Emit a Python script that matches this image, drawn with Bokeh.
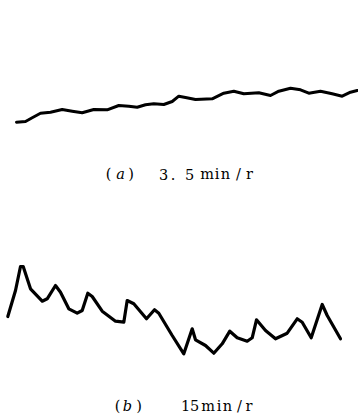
from bokeh.plotting import figure
from bokeh.models import Range1d
from bokeh.core.properties import value
from bokeh.embed import file_html
from bokeh.resources import INLINE

# Trace (a): 3.5 min/r  (horizontal position, vertical position in picture units, y grows downward)
a_x = [16, 25, 31.7, 40, 50, 61.7, 71.7, 81.7, 93.3, 106.7, 118.3, 128.3, 136.7, 145,
       153.3, 163.3, 171.7, 178.3, 185, 195, 211.7, 223.3, 233.3, 243.3, 258.3, 270,
       278.3, 290, 300, 308.3, 320, 331.7, 341.7, 350, 356.7]
a_y = [121.7, 121, 117.3, 112.7, 111.7, 109, 110.7, 112.3, 109, 109.3, 105, 105.7, 106.7, 104.3,
       103.3, 104, 101, 95.7, 97, 99, 98.3, 92.7, 90.7, 93.3, 92.3, 95,
       90.7, 87.7, 89.3, 92.7, 90.7, 93.3, 95.7, 91.7, 90]

# Trace (b): 15 min/r
b_x = [7.3, 15, 20, 22.7, 30, 41.7, 46.7, 55, 60, 68.3, 76.7, 81.7, 87.3, 91.7, 101.7,
       115, 123.3, 126.7, 133.3, 146, 154, 158.3, 171.7, 183.3, 191.7, 195, 205, 213.3,
       221.7, 229.3, 236.7, 246.7, 251.7, 256, 265, 275, 286.7, 296.7, 301.7, 310.7,
       321.7, 326.7, 340]
b_y = [316, 290, 266, 266, 288.3, 300.7, 298.3, 285, 291.7, 308.3, 312.7, 310, 292.7, 296, 310.7,
       320.7, 321.7, 300, 303.3, 318.3, 309.3, 312.7, 335, 353.3, 328.3, 339.3, 345, 352.7,
       343.3, 330.7, 337.3, 340.7, 337.3, 319.3, 330, 338.3, 332.7, 318.3, 321.7, 337.3,
       304, 315, 338.3]

# Caption glyphs (upright) and their centres
cap_text = ["(", ")", "3", ".", "5", "m", "i", "n", "/", "r",
            "(", ")", "1", "5", "m", "i", "n", "/", "r"]
cap_x = [108, 130.5, 163, 172.5, 189, 206.5, 216.5, 225, 238, 249,
         117, 138.5, 185, 194, 207.5, 218.5, 227, 239, 248.5]
cap_y = [173.5] * 10 + [405] * 9

# Caption letters (italic)
it_text = ["a", "b"]
it_x = [120, 127]
it_y = [173.5, 405]

p = figure(width=358, height=416, output_backend="svg", toolbar_location=None,
           x_range=Range1d(0, 358), y_range=Range1d(416, 0),
           min_border=0, min_border_left=0, min_border_right=0,
           min_border_top=0, min_border_bottom=0)
p.axis.visible = False
p.grid.visible = False
p.outline_line_color = None
p.background_fill_color = "white"
p.border_fill_color = "white"

p.line(a_x, a_y, line_color="black", line_width=3.0, line_join="round", line_cap="round")
p.line(b_x, b_y, line_color="black", line_width=3.2, line_join="round", line_cap="round")

p.text(x=cap_x, y=cap_y, text=cap_text, text_font=value("DejaVu Serif"),
       text_font_size="14.5px", text_color="black", text_align="center",
       text_baseline="alphabetic")
p.text(x=it_x, y=it_y, text=it_text, text_font=value("DejaVu Serif"),
       text_font_size="14.5px", text_font_style="italic", text_color="black",
       text_align="center", text_baseline="alphabetic")

open("out.html", "w").write(file_html(p, INLINE))
